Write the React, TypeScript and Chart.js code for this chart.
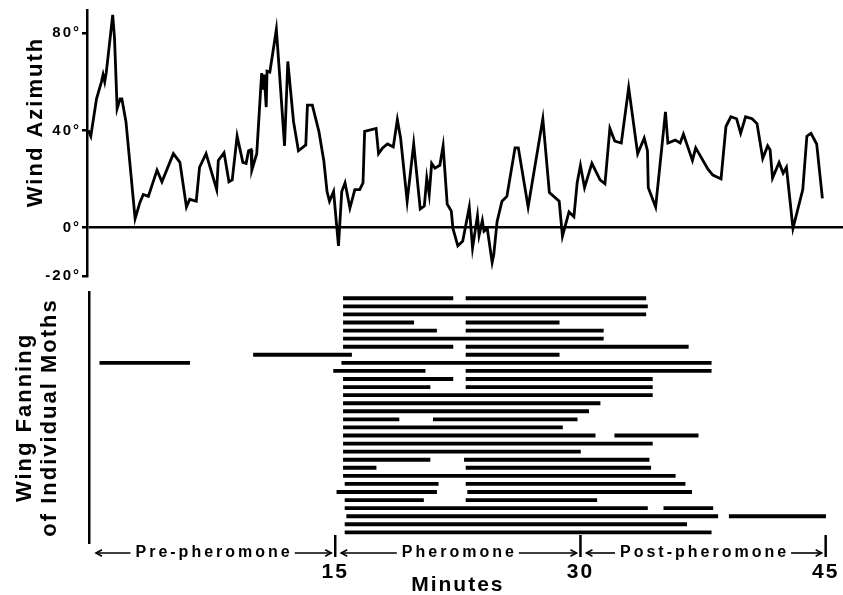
import React, { useEffect, useRef } from 'react';
import { Chart, registerables } from 'chart.js';

Chart.register(...registerables);

const FONT = "'Liberation Sans', Arial, Helvetica, sans-serif";

// ---- Wind azimuth trace (minutes, degrees) ----
const timeMinutes = [
  -0.1, 0.05, 0.4, 0.7, 0.8, 0.9, 1.0, 1.39, 1.5, 1.66,
  1.84, 1.95, 2.2, 2.76, 3.06, 3.26, 3.57, 4.1, 4.4, 5.1,
  5.5, 5.9, 6.1, 6.5, 6.7, 7.1, 7.75, 7.85, 8.2, 8.5,
  8.7, 9.0, 9.35, 9.55, 9.7, 9.85, 9.9, 10.2, 10.5, 10.6,
  10.65, 10.78, 10.83, 11.0, 11.4, 11.6, 11.9, 12.1, 12.45, 12.75,
  13.2, 13.3, 13.6, 14.0, 14.3, 14.5, 14.65, 14.9, 15.2, 15.4,
  15.6, 15.9, 16.2, 16.5, 16.7, 16.8, 17.5, 17.65, 17.9, 18.2,
  18.55, 18.8, 19.0, 19.4, 19.8, 20.2, 20.45, 20.6, 20.75, 20.9,
  21.1, 21.4, 21.6, 21.85, 22.1, 22.2, 22.5, 22.8, 23.2, 23.4,
  23.7, 23.8, 24.0, 24.1, 24.3, 24.6, 24.7, 24.9, 25.2, 25.5,
  26.0, 26.2, 26.8, 27.7, 28.1, 28.7, 28.9, 29.3, 29.6, 29.8,
  30.0, 30.25, 30.7, 31.2, 31.5, 31.8, 32.1, 32.5, 32.95, 33.5,
  33.9, 34.1, 34.15, 34.6, 35.2, 35.35, 35.8, 36.1, 36.3, 36.85,
  37.05, 37.8, 38.1, 38.6, 38.9, 39.2, 39.55, 39.8, 40.1, 40.5,
  40.8, 41.15, 41.45, 41.6, 41.75, 42.15, 42.4, 42.6, 43.0, 43.6,
  43.85, 44.1, 44.45, 44.8,
];
const windAzimuth = [
  40, 37.6, 53, 60, 63, 60, 64, 87.6, 78, 49,
  53, 53, 43.6, 3.6, 10.4, 13.6, 12.8, 23.6, 18.8, 30.4,
  26.8, 8.4, 11.6, 10.8, 24.8, 30.4, 15.6, 27.6, 30.8, 18.8,
  19.6, 37.6, 26.8, 26.4, 31.6, 32, 23.6, 30.4, 63.6, 56.8,
  63, 49.6, 64.4, 64, 81.6, 62.8, 33.6, 68.4, 43.6, 31.6,
  34, 50.4, 50.4, 39.6, 27.6, 14.8, 10.8, 14.8, -7.6, 14.8,
  18.4, 8, 15.6, 15.6, 18.4, 39.6, 40.8, 30.4, 32.8, 34.4,
  33.2, 44.4, 36.8, 10.8, 34.4, 7.6, 8.8, 20.4, 13.6, 26.4,
  24.4, 25.6, 33.6, 9.6, 6.8, -0.4, -7.6, -5.6, 8.4, -8.4,
  4.8, -3.2, 2.8, -1.6, -0.4, -14.4, -11.2, 2.4, 10.8, 12.8,
  32.8, 32.8, 8.4, 44.8, 14.4, 10.8, -3.6, 6.4, 4.4, 18.4,
  25.6, 16.4, 26.4, 19.6, 18, 40.8, 35.6, 34.8, 57.6, 30.4,
  36.8, 31.6, 16.4, 8.4, 47.6, 34.8, 36, 34.8, 38.4, 27.6,
  32.8, 24, 21.6, 20, 41.6, 45.6, 44.8, 38.8, 45.6, 44.8,
  42.8, 28.4, 33.6, 32, 20.4, 26.8, 22.4, 24.8, -0.4, 15.6,
  37.6, 38.8, 34.4, 12,
];
const azimuthTicks = [-20, 0, 40, 80];

// ---- Wing-fanning bouts (moth row, start minute, end minute) ----
const boutMoth = [
  1, 1, 2, 3, 4, 4, 5, 5, 6, 7,
  7, 8, 8, 9, 9, 10, 10, 11, 11, 12,
  12, 13, 14, 15, 16, 16, 17, 18, 18, 19,
  20, 21, 21, 22, 22, 23, 24, 24, 25, 25,
  26, 26, 27, 27, 28, 28, 29, 30,
];
const boutStart = [
  15.5, 23.0, 15.5, 15.5, 15.5, 23.0, 15.5, 23.0, 15.5, 15.5,
  23.0, 10.0, 23.0, 0.6, 15.4, 14.9, 23.0, 15.5, 23.0, 15.5,
  23.0, 15.5, 15.5, 15.5, 15.5, 21.0, 15.5, 15.5, 32.1, 15.5,
  15.5, 15.5, 22.9, 15.5, 23.0, 15.5, 15.6, 23.0, 15.1, 23.1,
  15.6, 23.0, 15.6, 35.1, 15.7, 39.1, 15.6, 15.6,
];
const boutEnd = [
  22.2, 34.0, 34.1, 34.0, 19.8, 28.7, 21.2, 31.4, 31.4, 22.2,
  36.6, 16.0, 28.7, 6.1, 38.0, 20.5, 38.0, 22.2, 34.4, 20.8,
  34.4, 34.4, 31.2, 30.5, 18.9, 29.8, 28.9, 30.9, 37.2, 34.4,
  30.0, 20.8, 34.2, 17.5, 34.3, 35.8, 21.3, 36.4, 21.2, 36.8,
  20.4, 31.0, 34.1, 38.1, 38.4, 45.0, 36.5, 38.0,
];

const minuteTicks = [15, 30, 45];
const periodNames = ['Pre-pheromone', 'Pheromone', 'Post-pheromone'];
const periodBounds = [0, 15, 30, 45];

const X_MAX = 46.06;

const spacingPlugin = {
  id: 'spacing',
  beforeDraw(chart: any) {
    chart.ctx.letterSpacing = '2px';
  },
  afterDraw(chart: any) {
    chart.ctx.letterSpacing = '0px';
  },
};

const azimuthTitlePlugin = {
  id: 'azTitle',
  afterDraw(chart: any) {
    const { ctx, chartArea } = chart;
    ctx.save();
    ctx.font = `bold 22px ${FONT}`;
    ctx.letterSpacing = '2px';
    ctx.fillStyle = '#000';
    ctx.translate(36, chartArea.top + 112);
    ctx.rotate(-Math.PI / 2);
    ctx.textAlign = 'center';
    ctx.textBaseline = 'middle';
    ctx.fillText('Wind Azimuth', 0, 0);
    ctx.restore();
  },
};

function drawLine(ctx: any, x1: number, y1: number, x2: number, y2: number) {
  ctx.beginPath();
  ctx.moveTo(x1, y1);
  ctx.lineTo(x2, y2);
  ctx.stroke();
}

function drawHead(ctx: any, tip: number, y: number, dir: number) {
  ctx.beginPath();
  ctx.moveTo(tip - dir * 6, y - 3.2);
  ctx.lineTo(tip, y);
  ctx.lineTo(tip - dir * 6, y + 3.2);
  ctx.stroke();
}

const periodPlugin = {
  id: 'periods',
  afterDraw(chart: any) {
    const { ctx, chartArea } = chart;
    const xs = chart.scales.x;
    const base = chartArea.bottom;
    const yArrow = base + 10;
    ctx.save();
    ctx.strokeStyle = '#000';
    ctx.fillStyle = '#000';
    ctx.lineWidth = 2.5;
    periodBounds.slice(1).forEach((b) => {
      const px = xs.getPixelForValue(b);
      drawLine(ctx, px, base - 8, px, base + 14);
    });
    ctx.font = `bold 16px ${FONT}`;
    ctx.letterSpacing = '3px';
    ctx.textAlign = 'left';
    ctx.textBaseline = 'alphabetic';
    periodNames.forEach((name, i) => {
      const a = xs.getPixelForValue(periodBounds[i]);
      const b = xs.getPixelForValue(periodBounds[i + 1]);
      const mid = (a + b) / 2;
      const w = ctx.measureText(name).width - 3;
      const tl = mid - w / 2;
      const tr = mid + w / 2;
      ctx.fillText(name, tl, base + 14);
      ctx.lineWidth = 1.6;
      drawLine(ctx, a + 6, yArrow, tl - 5, yArrow);
      drawHead(ctx, a + 6, yArrow, -1);
      drawLine(ctx, tr + 5, yArrow, b - 4, yArrow);
      drawHead(ctx, b - 4, yArrow, 1);
    });
    ctx.font = `bold 21px ${FONT}`;
    ctx.letterSpacing = '2px';
    ctx.textAlign = 'center';
    ctx.textBaseline = 'middle';
    ctx.fillText('Minutes', xs.getPixelForValue(22.5), base + 42);
    ctx.restore();
  },
};

export default function App() {
  const topRef = useRef<HTMLCanvasElement>(null);
  const botRef = useRef<HTMLCanvasElement>(null);

  useEffect(() => {
    Chart.defaults.font.family = FONT;
    Chart.defaults.color = '#000';

    const top = new Chart(topRef.current as HTMLCanvasElement, {
      type: 'line',
      data: {
        datasets: [
          {
            data: timeMinutes.map((t, i) => ({ x: t, y: windAzimuth[i] })),
            borderColor: '#000',
            borderWidth: 2.8,
            pointRadius: 0,
            tension: 0,
            fill: false,
          },
        ],
      },
      options: {
        animation: false,
        responsive: false,
        maintainAspectRatio: false,
        layout: { padding: { top: 5, bottom: 7, left: 0, right: 0 } },
        plugins: { legend: { display: false }, tooltip: { enabled: false } },
        scales: {
          x: { type: 'linear', min: -0.183, max: X_MAX, display: false },
          y: {
            type: 'linear',
            min: -20,
            max: 89.6,
            afterFit: (s: any) => {
              s.width = 87;
            },
            afterBuildTicks: (s: any) => {
              s.ticks = azimuthTicks.map((v) => ({ value: v }));
            },
            ticks: {
              callback: (v: any) => `${v}°`,
              font: { size: 15, weight: 'bold' },
              color: '#000',
              padding: 1,
            },
            grid: {
              color: (c: any) => (c.tick && c.tick.value === 0 ? '#000' : 'rgba(0,0,0,0)'),
              lineWidth: 2.5,
              tickColor: '#000',
              tickLength: 5,
              drawTicks: true,
            },
            border: { display: true, color: '#000', width: 2.5 },
          },
        },
      } as any,
      plugins: [spacingPlugin, azimuthTitlePlugin],
    });

    const bot = new Chart(botRef.current as HTMLCanvasElement, {
      type: 'bar',
      data: {
        datasets: [
          {
            data: boutMoth.map((m, i) => ({ y: m, x: [boutStart[i], boutEnd[i]] })),
            backgroundColor: '#000',
            borderWidth: 0,
            barThickness: 3.2,
          } as any,
        ],
      },
      options: {
        indexAxis: 'y',
        animation: false,
        responsive: false,
        maintainAspectRatio: false,
        layout: { padding: { top: 6, bottom: 0, left: 0, right: 0 } },
        plugins: { legend: { display: false }, tooltip: { enabled: false } },
        scales: {
          x: {
            type: 'linear',
            position: 'bottom',
            min: -0.061,
            max: X_MAX,
            afterFit: (s: any) => {
              s.height = 52;
              s.paddingLeft = 0;
              s.paddingRight = 0;
            },
            afterBuildTicks: (s: any) => {
              s.ticks = minuteTicks.map((v) => ({ value: v }));
            },
            ticks: {
              font: { size: 21, weight: 'bold' },
              color: '#000',
              padding: 17,
              maxRotation: 0,
              autoSkip: false,
            },
            grid: { display: false, drawTicks: false },
            border: { display: false },
          },
          y: {
            type: 'linear',
            min: 0.22,
            max: 31.32,
            reverse: true,
            offset: false,
            afterFit: (s: any) => {
              s.width = 89;
              s.paddingTop = 0;
              s.paddingBottom = 0;
            },
            ticks: { display: false },
            grid: { display: false },
            border: { display: true, color: '#000', width: 2.5 },
            title: {
              display: true,
              text: ['Wing Fanning', 'of Individual Moths'],
              font: { size: 22, weight: 'bold', lineHeight: 1.15 },
              color: '#000',
              padding: { top: 12, bottom: 0 },
            },
          },
        },
      } as any,
      plugins: [spacingPlugin, periodPlugin],
    });

    return () => {
      top.destroy();
      bot.destroy();
    };
  }, []);

  return (
    <div style={{ position: 'absolute', left: 0, top: 0, width: 843, height: 595, background: '#fff' }}>
      <canvas
        ref={topRef}
        width={843}
        height={286}
        style={{ position: 'absolute', left: 0, top: 0, width: 843, height: 286 }}
      />
      <canvas
        ref={botRef}
        width={843}
        height={309}
        style={{ position: 'absolute', left: 0, top: 286, width: 843, height: 309 }}
      />
    </div>
  );
}
